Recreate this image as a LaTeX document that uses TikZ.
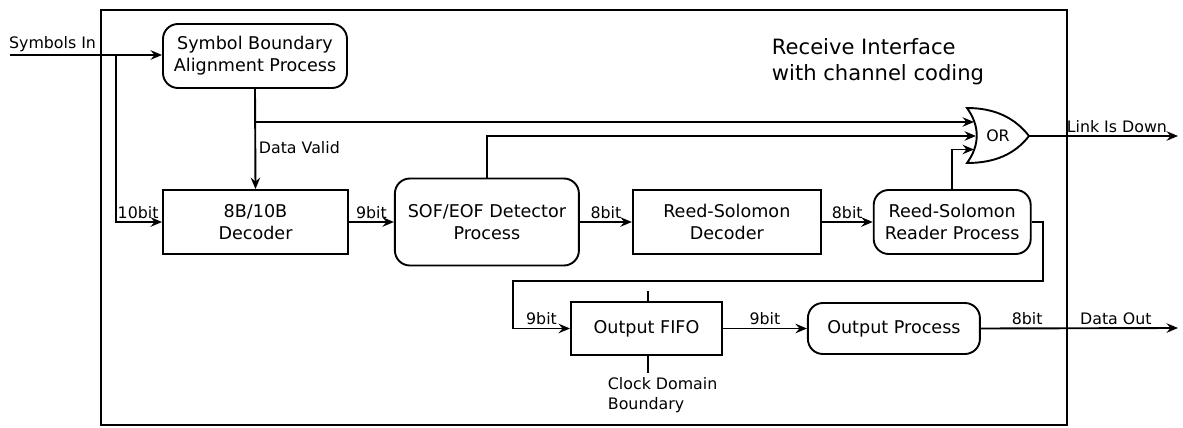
\documentclass[tikz,border=0pt]{standalone}
\usepackage{fontspec}
\setmainfont{DejaVu Sans}
\usetikzlibrary{positioning}
\usetikzlibrary{calc,arrows.meta}

\begin{document}
\begin{tikzpicture}[
    x=0.2mm, y=-0.2mm, % one unit = one pixel of the sketch
    node distance=9mm,
    font=\fontsize{10}{12.5}\selectfont,
    >={Stealth[length=2.3mm, width=1.9mm, inset=0.8mm]},
    line width=0.38mm
  ]

  \tikzset{
    proc/.style={draw, rounded corners=3mm, align=center, inner sep=0pt},
    unit/.style={draw, align=center, inner sep=0pt},
    lbl/.style={font=\fontsize{9}{11.3}\selectfont, inner sep=1.5pt}
  }

  \useasboundingbox (0,0) rectangle (1183,428);
  \draw (101,10) rectangle (1067,425);

  % Title
  \node (title) [align=left, anchor=north west, inner sep=0pt,
    font=\fontsize{12}{14.7}\selectfont] at (771,38) {Receive Interface\\with channel coding};

  % Upper row
  \node (sba)    [proc, minimum width=36.8mm, minimum height=12.8mm] at (255,56) {Symbol Boundary\\Alignment Process};
  \node (dec8b)  [unit, minimum width=37mm, minimum height=12.8mm] at (255.5,222) {8B/10B\\Decoder};
  \node (sof)    [proc, minimum width=36.8mm, minimum height=17.4mm, right=of dec8b] {SOF/EOF Detector\\Process};
  \node (rsdec)  [unit, minimum width=37.6mm, minimum height=12.8mm, right=10.4mm of sof] {Reed-Solomon\\Decoder};
  \node (rsread) [proc, minimum width=31.4mm, minimum height=12.8mm, right=10.2mm of rsdec] {Reed-Solomon\\Reader Process};

  % OR gate
  \node (orgate) [inner sep=0pt, font=\fontsize{9}{11}\selectfont] at (998,136) {OR};
  \draw (967,108) .. controls (995,108) and (1015,118) .. (1029,136)
        .. controls (1015,154) and (995,163) .. (967,163)
        .. controls (980,145) and (980,126) .. cycle;
  \coordinate (orin1) at (974,122);
  \coordinate (orin2) at (976,136);
  \coordinate (orin3) at (974,149.5);
  \coordinate (orout) at (1029,136);

  % Lower row
  \node (fifo)   [unit, minimum width=30.2mm, minimum height=10.6mm] at (646.5,328.5) {Output FIFO};
  \node (outp)   [proc, minimum width=34.4mm, minimum height=10.2mm, right=16.8mm of fifo] {Output Process};
  \node (cdlabel) [lbl, align=left, anchor=north west, inner sep=0pt] at (607,377) {Clock Domain\\Boundary};

  \coordinate (symin) at (10,55);
  \coordinate (split) at (116,55);
  \coordinate (linkdown) at (1178,136);
  \coordinate (bendr) at (1043,281);
  \coordinate (bendl) at (513,281);
  \coordinate (dataout) at (1178,328);

  % Connections
  \draw[->] (symin) -- (symin -| sba.west) node[lbl, above, pos=0.28] {Symbols In};
  \draw[->] (split) |- (dec8b.west) node[lbl, above left, pos=1] {10bit};
  \draw[->] (sba.south) -- (dec8b.north) node[lbl, right, pos=0.59] {Data Valid};
  \draw[->] (sba.south |- orin1) -- (orin1);
  \draw[->] (sof.north) |- (orin2);
  \draw[->] (rsread.north) |- (orin3);
  \draw[->] (orout) -- (linkdown) node[lbl, above, pos=0.59] {Link Is Down};

  \draw[->] (dec8b) -- (sof) node[lbl, above, midway] {9bit};
  \draw[->] (sof) -- (rsdec) node[lbl, above, midway] {8bit};
  \draw[->] (rsdec) -- (rsread) node[lbl, above, midway] {8bit};
  \draw[->] (rsread.east) -| (bendr) -- (bendl) |- (fifo.west) node[lbl, above, pos=0.75] {9bit};
  \draw[->] (fifo) -- (outp) node[lbl, above, midway] {9bit};
  \draw[->] (outp.east) -- (dataout)
    node[lbl, above, pos=0.235] {8bit}
    node[lbl, above, pos=0.685] {Data Out};

  % clock domain boundary
  \draw ([xshift=0.3mm]fifo.north) -- ++(0,-10);
  \draw ([xshift=0.3mm]fifo.south) -- ++(0,17);

\end{tikzpicture}
\end{document}
